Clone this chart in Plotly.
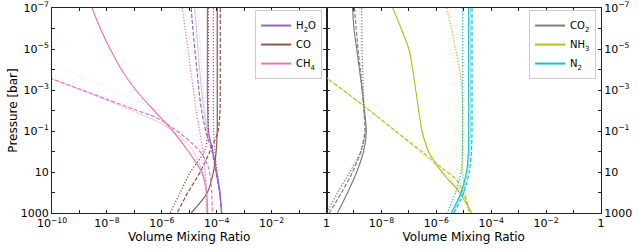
import plotly.graph_objects as go
from plotly.subplots import make_subplots

# ---------------- data (log10 values) ----------------
# common pressure grid, log10(p [bar])
logp_levels = [-7, -6, -5, -4, -3, -2, -1, 0, 1, 2, 3]

# left panel: log10 VMR on logp_levels
h2o_solid = [-4.34, -4.34, -4.34, -4.34, -4.34, -4.33, -4.30, -4.14, -4.00, -3.88, -3.82]
h2o_dash = [-4.93, -4.87, -4.80, -4.72, -4.65, -4.55, -4.40, -4.17, -4.03, -3.90, -3.82]
h2o_dot = [-4.12, -4.12, -4.12, -4.12, -4.12, -4.12, -4.11, -4.07, -3.98, -3.88, -3.82]
h2o_thin = [-4.80, -4.74, -4.68, -4.62, -4.55, -4.46, -4.35, -4.15, -4.03, -3.90, -3.82]
h2o_faint = [-4.70, -4.65, -4.60, -4.54, -4.48, -4.42, -4.33, -4.15, -4.02, -3.90, -3.82]

co_solid = [-3.98, -3.98, -3.98, -3.98, -3.98, -3.98, -3.98, -4.02, -4.12, -4.34, -4.93]
co_dash = [-3.87, -3.87, -3.87, -3.87, -3.87, -3.88, -3.95, -4.25, -4.60, -5.05, -5.44]
co_dot = [-4.30, -4.30, -4.30, -4.30, -4.30, -4.30, -4.31, -4.45, -4.96, -5.33, -5.70]

ch4_solid = [-8.54, -8.24, -7.88, -7.47, -6.95, -6.28, -5.60, -5.03, -4.55, -4.37, -4.33]
ch4_dot = [-5.25, -5.15, -5.05, -4.95, -4.85, -4.75, -4.62, -4.50, -4.42, -4.38, -4.37]
# CH4 curves that run diagonally: (log10 VMR, log10 p) pairs
ch4_dash_x = [-10.5, -10.0, -9.0, -8.0, -7.0, -6.2, -5.5, -4.9, -4.5, -4.3, -4.2, -4.16]
ch4_dash_p = [-3.80, -3.54, -3.05, -2.55, -2.05, -1.65, -1.05, -0.40, 0.20, 0.80, 1.60, 3.00]
ch4_thin_x = [-10.5, -10.0, -8.0, -7.0, -6.0, -5.4, -4.9, -4.6, -4.4, -4.35]
ch4_thin_p = [-3.80, -3.54, -2.50, -1.95, -1.35, -0.80, -0.10, 0.70, 1.60, 3.00]
ch4_faint_x = [-10.5, -10.0, -8.0, -6.0, -5.2, -4.85, -4.6, -4.45, -4.4]
ch4_faint_p = [-4.55, -4.27, -3.10, -1.95, -1.40, -0.80, 0.00, 1.00, 3.00]

# right panel
co2_solid = [-9.05, -9.00, -8.90, -8.80, -8.70, -8.62, -8.55, -8.65, -8.90, -9.23, -9.60]
co2_dash = [-8.98, -8.92, -8.85, -8.77, -8.70, -8.64, -8.60, -8.75, -9.05, -9.45, -9.90]
co2_dot = [-8.72, -8.71, -8.70, -8.68, -8.66, -8.62, -8.58, -8.75, -9.15, -9.60, -10.0]
co2_faint = [-8.80, -8.78, -8.75, -8.72, -8.69, -8.64, -8.60, -8.72, -9.10, -9.55, -9.95]

nh3_solid = [-7.59, -7.28, -7.00, -6.86, -6.75, -6.64, -6.52, -6.28, -5.80, -5.15, -4.71]
nh3_dot = [-5.62, -5.45, -5.30, -5.15, -5.07, -5.04, -5.04, -5.04, -5.04, -4.95, -4.78]
nh3_dash_x = [-10.6, -9.89, -8.69, -7.48, -6.53, -5.80, -5.26, -4.95, -4.78]
nh3_dash_p = [-4.20, -3.49, -2.27, -1.00, 0.00, 0.80, 1.39, 2.20, 3.00]
nh3_thin_x = [-10.6, -9.89, -8.70, -7.60, -6.80, -6.00, -5.30, -4.95, -4.80]
nh3_thin_p = [-4.20, -3.49, -2.30, -1.10, -0.20, 0.70, 1.60, 2.30, 3.00]
nh3_faint_x = [-10.6, -9.9, -8.7, -7.5, -6.24, -5.5, -5.1, -4.85]
nh3_faint_p = [-4.55, -3.90, -2.75, -1.50, -0.32, 0.60, 1.60, 3.00]

n2_solid = [-4.82, -4.82, -4.82, -4.82, -4.82, -4.82, -4.82, -4.83, -4.90, -5.10, -5.45]
n2_dash = [-4.70, -4.70, -4.70, -4.70, -4.70, -4.70, -4.70, -4.72, -4.80, -5.00, -5.35]
n2_dot = [-5.04, -5.04, -5.04, -5.04, -5.04, -5.04, -5.04, -5.05, -5.10, -5.30, -5.60]
n2_thin = [-4.76, -4.76, -4.76, -4.76, -4.76, -4.76, -4.76, -4.78, -4.86, -5.05, -5.40]

left_names = ["H<sub>2</sub>O", "CO", "CH<sub>4</sub>"]
right_names = ["CO<sub>2</sub>", "NH<sub>3</sub>", "N<sub>2</sub>"]

x_tick_exp = [-10, -9, -8, -7, -6, -5, -4, -3, -2, -1, 0]
y_tick_exp = [-7, -6, -5, -4, -3, -2, -1, 0, 1, 2, 3]

# ---------------- colours & styles ----------------
PURPLE, BROWN, PINK = "#9467bd", "#8c564b", "#e377c2"
GRAY, OLIVE, CYAN = "#7f7f7f", "#bcbd22", "#17becf"

STYLES = {
    "solid": dict(width=1.2, dash="solid", opacity=1.0),
    "dash": dict(width=1.2, dash="4px,2px", opacity=1.0),
    "dot": dict(width=1.2, dash="1.3px,1.7px", opacity=1.0),
    "thin": dict(width=0.8, dash="solid", opacity=0.55),
    "faint": dict(width=0.8, dash="1.3px,1.7px", opacity=0.35),
}

fig = make_subplots(rows=1, cols=2, horizontal_spacing=0.0)


def add(col, logx, logp, color, style):
    st = STYLES[style]
    fig.add_trace(
        go.Scatter(
            x=[10 ** v for v in logx],
            y=[10 ** v for v in logp],
            mode="lines",
            line=dict(color=color, width=st["width"], dash=st["dash"], shape="spline", smoothing=0.8),
            opacity=st["opacity"],
            showlegend=False,
            hoverinfo="skip",
        ),
        row=1, col=col,
    )


def add_legend(col, color, name, legend):
    fig.add_trace(
        go.Scatter(x=[None], y=[None], mode="lines", line=dict(color=color, width=2),
                   name=name, showlegend=True, legend=legend),
        row=1, col=col,
    )


# left panel
add(1, h2o_faint, logp_levels, PURPLE, "faint")
add(1, h2o_thin, logp_levels, PURPLE, "thin")
add(1, h2o_dot, logp_levels, PURPLE, "dot")
add(1, h2o_dash, logp_levels, PURPLE, "dash")
add(1, h2o_solid, logp_levels, PURPLE, "solid")
add(1, co_dot, logp_levels, BROWN, "dot")
add(1, co_dash, logp_levels, BROWN, "dash")
add(1, co_solid, logp_levels, BROWN, "solid")
add(1, ch4_faint_x, ch4_faint_p, PINK, "faint")
add(1, ch4_thin_x, ch4_thin_p, PINK, "thin")
add(1, ch4_dot, logp_levels, PINK, "dot")
add(1, ch4_dash_x, ch4_dash_p, PINK, "dash")
add(1, ch4_solid, logp_levels, PINK, "solid")

# right panel
add(2, co2_faint, logp_levels, GRAY, "faint")
add(2, co2_dot, logp_levels, GRAY, "dot")
add(2, co2_dash, logp_levels, GRAY, "dash")
add(2, co2_solid, logp_levels, GRAY, "solid")
add(2, nh3_faint_x, nh3_faint_p, OLIVE, "faint")
add(2, nh3_thin_x, nh3_thin_p, OLIVE, "thin")
add(2, nh3_dot, logp_levels, OLIVE, "dot")
add(2, nh3_dash_x, nh3_dash_p, OLIVE, "dash")
add(2, nh3_solid, logp_levels, OLIVE, "solid")
add(2, n2_thin, logp_levels, CYAN, "thin")
add(2, n2_dot, logp_levels, CYAN, "dot")
add(2, n2_dash, logp_levels, CYAN, "dash")
add(2, n2_solid, logp_levels, CYAN, "solid")

for c, n in zip([PURPLE, BROWN, PINK], left_names):
    add_legend(1, c, n, "legend")
for c, n in zip([GRAY, OLIVE, CYAN], right_names):
    add_legend(2, c, n, "legend2")


def exp_label(e):
    if e == 0:
        return "1"
    if e == 1:
        return "10"
    if e == 3:
        return "1000"
    return "10<sup>\u2212%d</sup>" % (-e)


FONT = "DejaVu Sans, Arial, sans-serif"
x_left_text = [exp_label(e) if e % 2 == 0 else "" for e in x_tick_exp]
x_right_text = [exp_label(e) if (e % 2 == 0 and e != -10) else "" for e in x_tick_exp]
y_text = [exp_label(e) if e % 2 == 1 else "" for e in y_tick_exp]

common_x = dict(type="log", range=[-10, 0], tickmode="array", automargin=False,
                tickvals=[10 ** e for e in x_tick_exp], ticks="inside", ticklen=3.5,
                tickwidth=0.8, tickcolor="#222", showline=True, linecolor="#222", linewidth=0.9,
                mirror="ticks", showgrid=False, zeroline=False,
                tickfont=dict(family=FONT, size=11, color="#000"),
                title=dict(text="Volume Mixing Ratio", font=dict(family=FONT, size=12, color="#000"),
                           standoff=0))
common_y = dict(type="log", range=[3, -7], tickmode="array", automargin=False,
                tickvals=[10 ** e for e in y_tick_exp], ticktext=y_text, ticks="inside", ticklen=3.5,
                tickwidth=0.8, tickcolor="#222", showline=True, linecolor="#222", linewidth=0.9,
                mirror="ticks", showgrid=False, zeroline=False,
                tickfont=dict(family=FONT, size=11, color="#000"))

fig.update_xaxes(**common_x, ticktext=x_left_text, row=1, col=1)
fig.update_xaxes(**common_x, ticktext=x_right_text, row=1, col=2)
fig.update_yaxes(**common_y, title=dict(text="Pressure [bar]", font=dict(family=FONT, size=12, color="#000"),
                                        standoff=0), row=1, col=1)
fig.update_yaxes(**common_y, side="right", row=1, col=2)

legend_common = dict(font=dict(family=FONT, size=10, color="#000"), bgcolor="rgba(255,255,255,0.9)",
                     bordercolor="#cccccc", borderwidth=1, xanchor="right", yanchor="top",
                     tracegroupgap=0, itemwidth=30)
fig.update_layout(
    width=639, height=250,
    margin=dict(l=52, r=38, t=8, b=37),
    paper_bgcolor="white", plot_bgcolor="white",
    font=dict(family=FONT, size=11, color="#000"),
    legend=dict(x=0.492, y=0.99, **legend_common),
    legend2=dict(x=0.991, y=0.99, **legend_common),
)

fig.write_html("out.html",
               config={"displayModeBar": False},
               post_script="document.body.style.margin='0';document.body.style.overflow='hidden';")
